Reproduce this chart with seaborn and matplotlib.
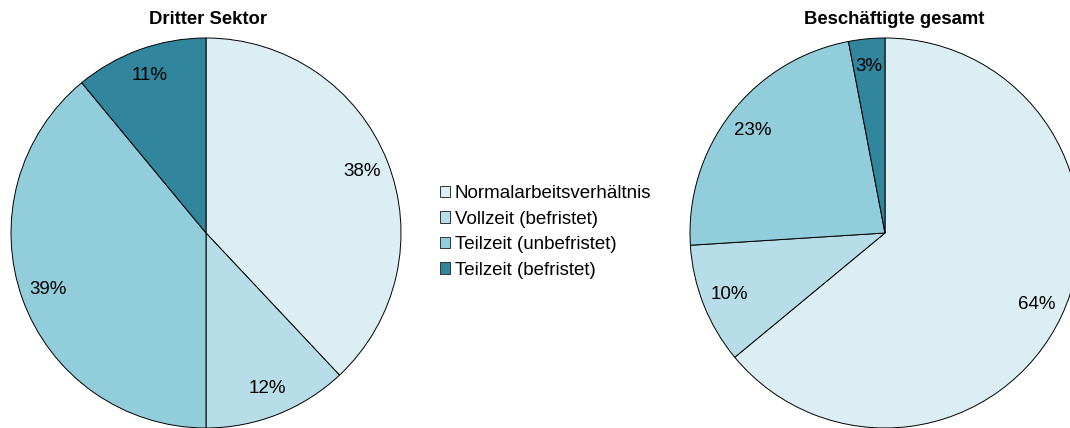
import matplotlib
matplotlib.use("Agg")
import matplotlib.pyplot as plt
import matplotlib.patches as mpatches
import seaborn as sns

# data
categories = ["Normalarbeitsverhältnis", "Vollzeit (befristet)",
              "Teilzeit (unbefristet)", "Teilzeit (befristet)"]
dritter_sektor = [38, 12, 39, 11]
gesamt = [64, 10, 23, 3]
titles = ["Dritter Sektor", "Beschäftigte gesamt"]

colors = ["#DAEEF3", "#B7DDE8", "#92CDDC", "#31859C"]

sns.set_theme(style="white")
sns.set_palette(colors)
plt.rcParams['font.family'] = ['Liberation Sans', 'DejaVu Sans']

fig = plt.figure(figsize=(10.7, 4.28), dpi=100)

# pie axes placed by pixel centre (radius 195 px)
ax_l = fig.add_axes([11 / 1070, 0, 390 / 1070, 390 / 428])
ax_r = fig.add_axes([690 / 1070, 0, 390 / 1070, 390 / 428])

for ax, vals in zip([ax_l, ax_r], [dritter_sektor, gesamt]):
    ax.pie(vals, colors=colors, startangle=90, counterclock=False,
           autopct=lambda p: f"{p:.0f}%", pctdistance=0.86,
           wedgeprops=dict(edgecolor="black", linewidth=0.7),
           textprops=dict(fontsize=13.5, color="black"))
    ax.set_xlim(-1, 1)
    ax.set_ylim(-1, 1)
    ax.set_aspect("equal")

fig.text(208 / 1070, 1 - 19 / 428, titles[0], ha="center", va="center",
         fontsize=13.3, fontweight="bold", color="black")
fig.text(894 / 1070, 1 - 19 / 428, titles[1], ha="center", va="center",
         fontsize=13.3, fontweight="bold", color="black")

handles = [mpatches.Patch(facecolor=c, edgecolor="#333333", linewidth=0.7, label=l)
           for c, l in zip(colors, categories)]
fig.legend(handles=handles, loc="center left",
           bbox_to_anchor=(440 / 1070, 1 - 232 / 428), frameon=False,
           fontsize=13.5, handlelength=0.55, handleheight=0.55,
           handletextpad=0.25, labelspacing=0.45, borderaxespad=0,
           borderpad=0, labelcolor="black")

fig.savefig("out.png", dpi=100)
